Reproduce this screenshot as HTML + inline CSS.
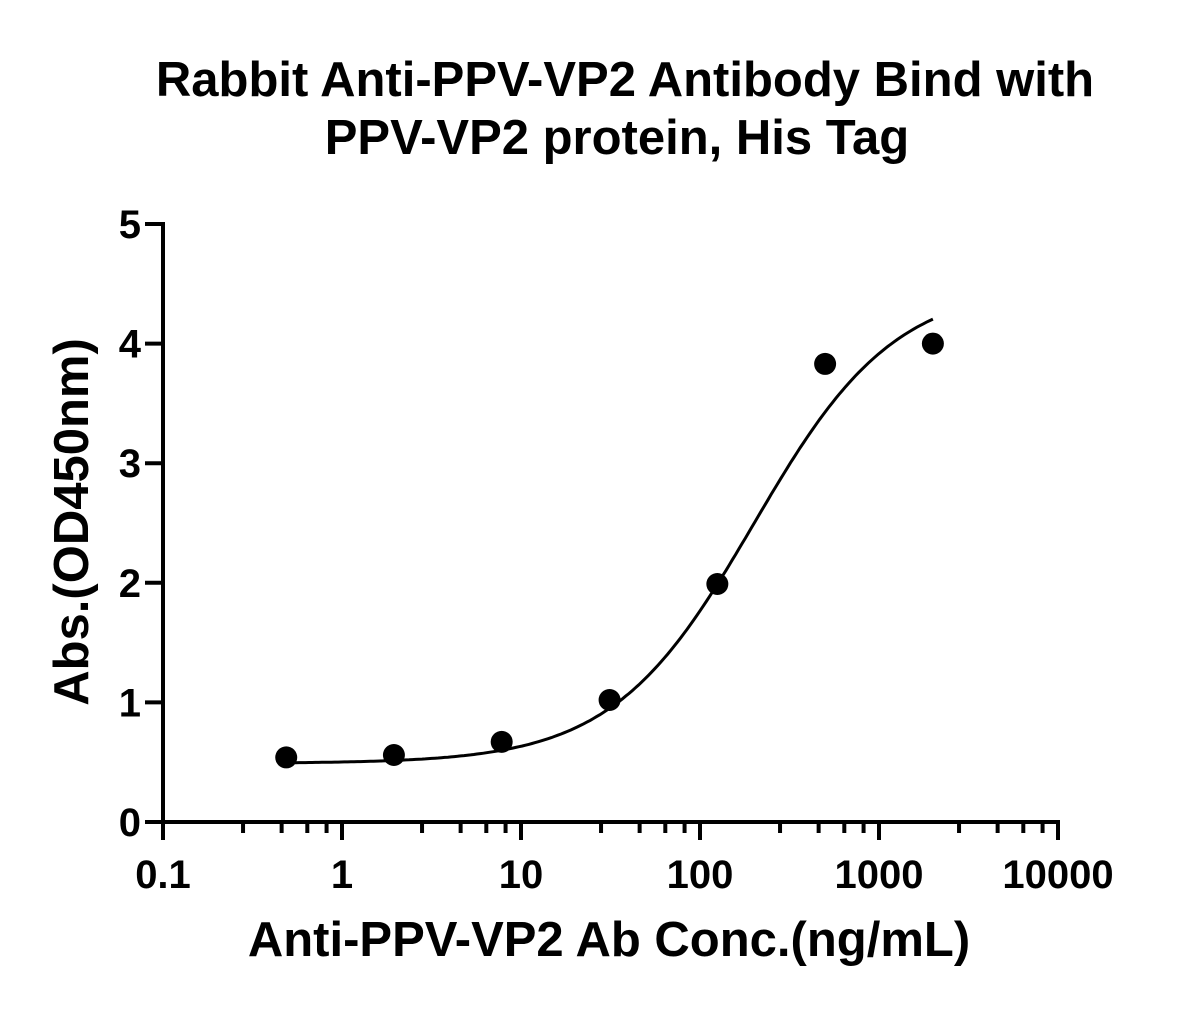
<!DOCTYPE html>
<html><head><meta charset="utf-8"><style>
body{margin:0;background:#fff;}
svg text{font-family:"Liberation Sans",Arial,sans-serif;font-weight:bold;fill:#000;}
</style></head><body>
<svg width="1194" height="1005" viewBox="0 0 1194 1005" xmlns="http://www.w3.org/2000/svg">
<text x="625" y="96" font-size="49" text-anchor="middle">Rabbit Anti-PPV-VP2 Antibody Bind with</text>
<text x="617" y="154" font-size="49" text-anchor="middle">PPV-VP2 protein, His Tag</text>
<text x="609" y="956" font-size="49" text-anchor="middle">Anti-PPV-VP2 Ab Conc.(ng/mL)</text>
<text transform="translate(88,522) rotate(-90)" font-size="49" text-anchor="middle">Abs.(OD450nm)</text>
<g id="axes"></g>
<g id="marks"></g>
</svg>
<script>
const xTicks=[0.1,1,10,100,1000,10000];
const xTickLabels=["0.1","1","10","100","1000","10000"];
const yTicks=[0,1,2,3,4,5];
const yTickLabels=["0","1","2","3","4","5"];
const concentrations=[0.488,1.95,7.8,31.25,125,500,2000];
const absorbance=[0.54,0.56,0.67,1.02,1.99,3.83,4.0];
const fitBottom=[0.49];
const fitTop=[4.5];
const fitEC50=[200];
const fitHill=[1.1];

const X0=163,X1=1058,Y0=822,Y1=224;
const xs=v=>X0+(Math.log10(v)+1)/5*(X1-X0);
const ys=v=>Y0-v/5*(Y0-Y1);
const NS="http://www.w3.org/2000/svg";
const axes=document.getElementById('axes'),marks=document.getElementById('marks');
function mk(tag,attrs,parent){const e=document.createElementNS(NS,tag);for(const k in attrs)e.setAttribute(k,attrs[k]);parent.appendChild(e);return e;}
let e;
e=mk('line',{x1:X0,y1:Y0,x2:X1+2,y2:Y0,stroke:'#000','stroke-width':4},axes);


e=mk('line',{x1:X0,y1:Y0+2,x2:X0,y2:Y1-2,stroke:'#000','stroke-width':4},axes);


xTicks.forEach((t,i)=>{
  const x=xs(t);
  e=mk('line',{x1:x,y1:Y0,x2:x,y2:Y0+18,stroke:'#000','stroke-width':4},axes);
  
  
  e=mk('text',{x:x,y:Y0+66,'font-size':40,'text-anchor':'middle'},axes);
  e.textContent=xTickLabels[i];
  
  
  if(i<xTicks.length-1){
    [2.8,4.6,6.4,8.2].forEach(m=>{
      const mx=xs(t*m);
      e=mk('line',{x1:mx,y1:Y0,x2:mx,y2:Y0+11,stroke:'#000','stroke-width':4},axes);
      
      
    });
  }
});
yTicks.forEach((t,i)=>{
  const y=ys(t);
  e=mk('line',{x1:X0,y1:y,x2:X0-18,y2:y,stroke:'#000','stroke-width':4},axes);
  
  
  e=mk('text',{x:X0-22,y:y+14,'font-size':40,'text-anchor':'end'},axes);
  e.textContent=yTickLabels[i];
  
  
});
const f=c=>fitBottom[0]+(fitTop[0]-fitBottom[0])/(1+Math.pow(fitEC50[0]/c,fitHill[0]));
let d='';
const lo=Math.log10(concentrations[0]),hi=Math.log10(concentrations[concentrations.length-1]);
for(let k=0;k<=200;k++){const c=Math.pow(10,lo+(hi-lo)*k/200);d+=(k?'L':'M')+xs(c).toFixed(1)+','+ys(f(c)).toFixed(1);}
e=mk('path',{d:d,fill:'none',stroke:'#000','stroke-width':3},marks);


concentrations.forEach((c,i)=>{
  e=mk('circle',{cx:xs(c),cy:ys(absorbance[i]),r:11,fill:'#000'},marks);
  
  
});
</script>
</body></html>
